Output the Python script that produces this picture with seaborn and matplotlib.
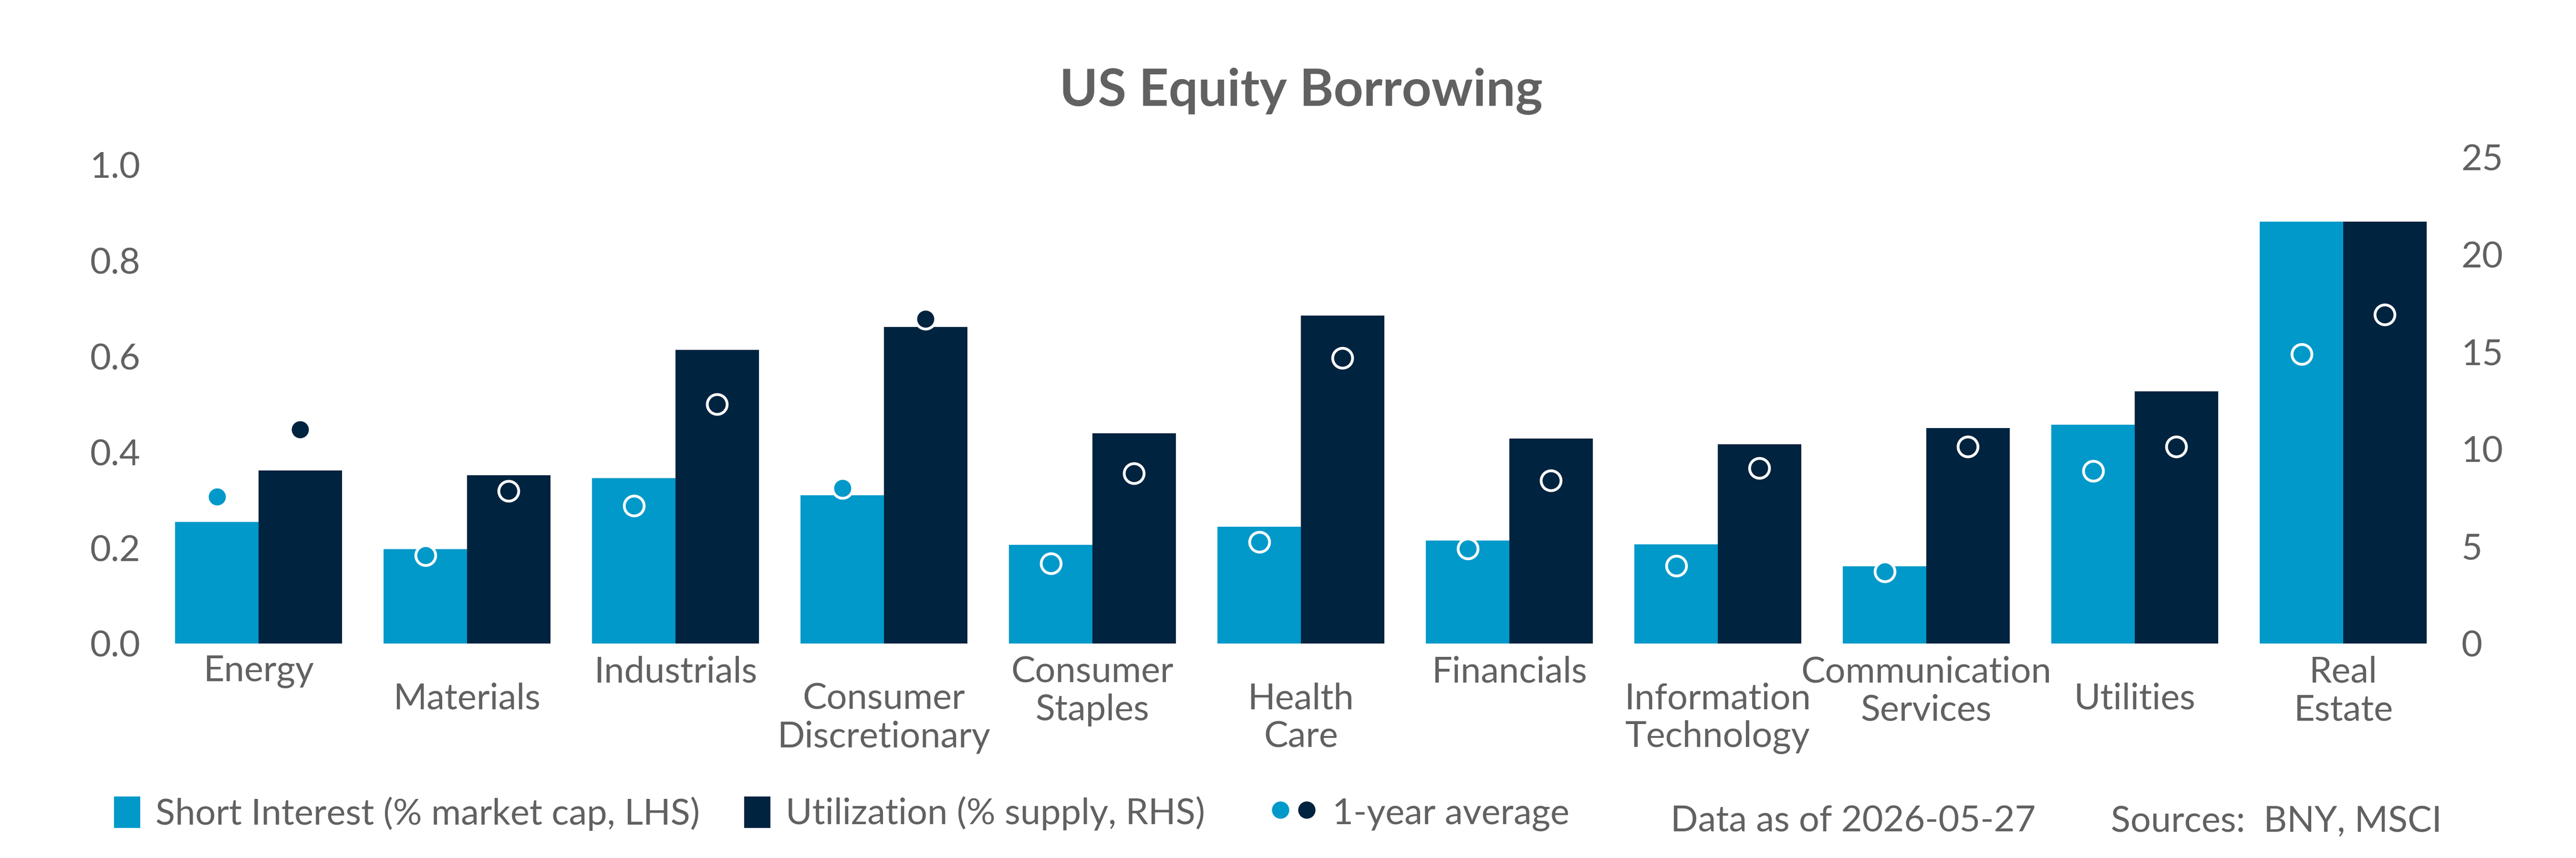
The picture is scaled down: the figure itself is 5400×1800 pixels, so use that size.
import numpy as np
import pandas as pd
import matplotlib.pyplot as plt
import seaborn as sns
from matplotlib.patches import Patch
from matplotlib.lines import Line2D
from matplotlib.legend_handler import HandlerTuple

# Values
sectors = ["Energy", "Materials", "Industrials", "Consumer\nDiscretionary",
           "Consumer\nStaples", "Health\nCare", "Financials",
           "Information\nTechnology", "Communication\nServices", "Utilities",
           "Real\nEstate"]
short_interest = [0.254, 0.197, 0.345, 0.309, 0.206, 0.244, 0.215, 0.207, 0.161, 0.457, 0.881]
short_interest_avg = [0.306, 0.184, 0.288, 0.324, 0.167, 0.212, 0.198, 0.162, 0.150, 0.360, 0.604]
utilization = [8.9, 8.65, 15.1, 16.28, 10.8, 16.86, 10.54, 10.24, 11.08, 12.97, 21.7]
utilization_avg = [11.0, 7.85, 12.3, 16.7, 8.75, 14.67, 8.38, 9.02, 10.12, 10.12, 16.9]

left_ticks = [0.0, 0.2, 0.4, 0.6, 0.8, 1.0]
right_ticks = [0, 5, 10, 15, 20, 25]

series = ["Short Interest (% market cap, LHS)", "Utilization (% supply, RHS)"]
colors = ["#0099C9", "#00233F"]
grey = "#616161"
fs = 18.2

sns.set_style("white")
plt.rcParams["font.family"] = ["Lato", "DejaVu Sans"]

n = len(sectors)
bars = pd.DataFrame({
    "sector": sectors * 2,
    "series": [series[0]] * n + [series[1]] * n,
    "value": short_interest + utilization,
})
avgs = pd.DataFrame({
    "sector": sectors * 2,
    "series": [series[0]] * n + [series[1]] * n,
    "value": short_interest_avg + utilization_avg,
})

fig = plt.figure(figsize=(18, 6), dpi=300)
ax = fig.add_axes([0.0599, 0.25, 0.8902, 0.5667])
ax2 = ax.twinx()

# left axis gets short interest, right axis gets utilization
for axis, name in [(ax, series[0]), (ax2, series[1])]:
    sns.barplot(data=bars[bars.series == name], x="sector", y="value",
                hue="series", hue_order=series, order=sectors, palette=colors,
                dodge=True, width=0.8, gap=0, errorbar=None, saturation=1,
                linewidth=0, legend=False, ax=axis)
    sns.stripplot(data=avgs[avgs.series == name], x="sector", y="value",
                  hue="series", hue_order=series, order=sectors, palette=colors,
                  dodge=True, jitter=False, size=10, linewidth=1.4,
                  edgecolor="white", legend=False, ax=axis, zorder=5)

ax.set_xlim(-0.5, n - 0.5)
ax.set_ylim(0, 1.015)
ax.set_yticks(left_ticks)
ax.set_yticklabels([f"{t:.1f}" for t in left_ticks])
ax2.set_ylim(0, 25)
ax2.set_yticks(right_ticks)
ax2.set_yticklabels([str(t) for t in right_ticks])

for a in (ax, ax2):
    a.set_xlabel("")
    a.set_ylabel("")
    for s in a.spines.values():
        s.set_visible(False)
    a.tick_params(axis="both", length=0, labelsize=fs, labelcolor=grey, pad=7)
    a.grid(False)

# staggered category labels
for i, t in enumerate(ax.xaxis.get_major_ticks()):
    t.set_pad(6 if i % 2 == 0 else 19.5)

ax.set_title("US Equity Borrowing", fontsize=26, fontweight="bold",
             color=grey, pad=26)


def add_key(handle, label, x, handlelength, handler_map=None):
    fig.legend([handle], [label], loc="center left", bbox_to_anchor=(x, 0.0517),
               frameon=False, fontsize=fs, labelcolor=grey,
               handlelength=handlelength, handleheight=0.97, handletextpad=0.42,
               borderpad=0, borderaxespad=0, handler_map=handler_map)


add_key(Patch(facecolor=colors[0], linewidth=0), series[0], 0.0443, 0.72)
add_key(Patch(facecolor=colors[1], linewidth=0), series[1], 0.2889, 0.72)
dots = tuple(Line2D([], [], marker="o", ls="none", markerfacecolor=c,
                    markeredgecolor="white", mew=1.3, ms=10) for c in colors)
add_key(dots, "1-year average", 0.493, 1.3,
        handler_map={tuple: HandlerTuple(ndivide=None, pad=0.15)})

fig.text(0.6485, 0.0306, "Data as of 2026-05-27", fontsize=fs, color=grey,
         ha="left", va="baseline")
fig.text(0.8194, 0.0306, "Sources:  BNY, MSCI", fontsize=fs, color=grey,
         ha="left", va="baseline")

fig.savefig("out.png", dpi=300)
